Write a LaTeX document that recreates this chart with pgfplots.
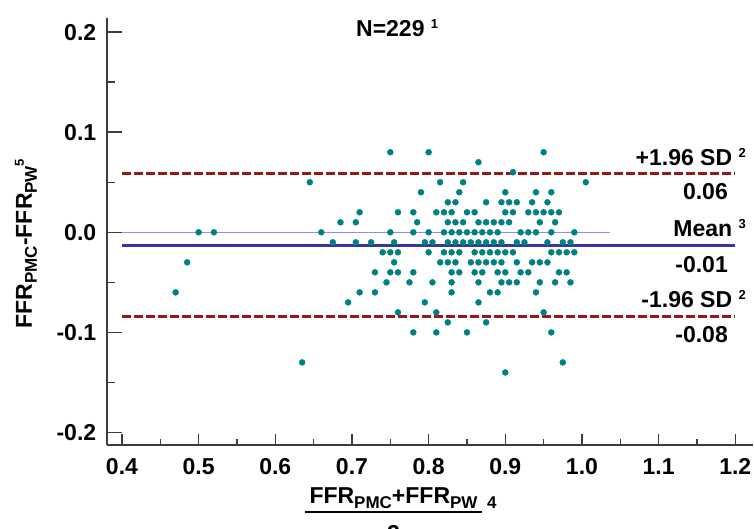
\documentclass[border=0pt]{standalone}
\usepackage{pgfplots}
\pgfplotsset{compat=1.18}
\usepackage{fontspec}
\setmainfont{Liberation Sans}

\definecolor{dotteal}{RGB}{0,128,128}
\definecolor{sdred}{RGB}{150,25,25}
\definecolor{meanblue}{RGB}{55,55,160}
\definecolor{zeroblue}{RGB}{140,140,255}
\definecolor{axgray}{RGB}{60,60,60}

\newcommand{\lbl}{\fontsize{23}{27}\selectfont\bfseries}
\newcommand{\sub}[1]{\raisebox{-5pt}{\fontsize{17}{17}\selectfont #1}}
\newcommand{\supr}[1]{\raisebox{8pt}{\fontsize{13}{13}\selectfont #1}}

\begin{document}
\begin{tikzpicture}
\useasboundingbox (-107.4pt,-84pt) rectangle (646.6pt,445pt);
\begin{axis}[
    width=645.6pt, height=426.7pt, scale only axis,
    xmin=0.381, xmax=1.2231, ymin=-0.2125, ymax=0.2138,
    clip=false,
    axis lines*=left,
    axis line style={-, line width=2pt, axgray},
    tick align=inside,
    xtick={0.4,0.5,0.6,0.7,0.8,0.9,1.0,1.1,1.2},
    xticklabels={0.4,0.5,0.6,0.7,0.8,0.9,1.0,1.1,1.2},
    minor xtick={0.45,0.55,0.65,0.75,0.85,0.95,1.05,1.15},
    ytick={-0.2,-0.1,0,0.1,0.2},
    yticklabels={-0.2,-0.1,0.0,0.1,0.2},
    minor ytick={-0.15,-0.05,0.05,0.15},
    xtick style={/pgfplots/major tick length=11pt, /pgfplots/minor tick length=5.5pt, line width=1.5pt, axgray},
    ytick style={/pgfplots/major tick length=14.6pt, /pgfplots/minor tick length=7.7pt, line width=1.5pt, axgray},
    xticklabel style={font=\lbl, anchor=north, inner sep=0pt, yshift=-13pt},
    yticklabel style={font=\lbl, anchor=east, inner sep=0pt, xshift=-11pt},
]
% thin zero line
\addplot[zeroblue, line width=1pt] coordinates {(0.4,0) (1.036,0)};

% differences against means
\addplot[only marks, mark=*, mark size=3pt, draw=dotteal, fill=dotteal] table {
x y
0.47 -0.06
0.485 -0.03
0.50 0
0.52 0
0.635 -0.13
0.645 0.05
0.66 0
0.75 0.08
0.80 0.08
0.95 0.08
0.865 0.07
0.91 0.06
0.815 0.05
0.845 0.05
1.005 0.05
0.79 0.04
0.84 0.04
0.90 0.04
0.94 0.04
0.96 0.04
0.825 0.03
0.835 0.03
0.875 0.03
0.895 0.03
0.905 0.03
0.915 0.03
0.935 0.03
0.955 0.03
0.71 0.02
0.76 0.02
0.78 0.02
0.81 0.02
0.82 0.02
0.83 0.02
0.85 0.02
0.86 0.02
0.90 0.02
0.91 0.02
0.93 0.02
0.94 0.02
0.95 0.02
0.96 0.02
0.97 0.02
0.685 0.01
0.705 0.01
0.785 0.01
0.825 0.01
0.835 0.01
0.845 0.01
0.865 0.01
0.875 0.01
0.885 0.01
0.895 0.01
0.905 0.01
0.945 0.01
0.965 0.01
0.75 0
0.78 0
0.80 0
0.82 0
0.83 0
0.84 0
0.85 0
0.86 0
0.87 0
0.88 0
0.89 0
0.92 0
0.93 0
0.94 0
0.96 0
0.99 0
0.675 -0.01
0.705 -0.01
0.725 -0.01
0.755 -0.01
0.795 -0.01
0.805 -0.01
0.825 -0.01
0.835 -0.01
0.845 -0.01
0.855 -0.01
0.865 -0.01
0.875 -0.01
0.885 -0.01
0.895 -0.01
0.915 -0.01
0.925 -0.01
0.955 -0.01
0.975 -0.01
0.985 -0.01
0.74 -0.02
0.75 -0.02
0.76 -0.02
0.80 -0.02
0.82 -0.02
0.83 -0.02
0.84 -0.02
0.86 -0.02
0.87 -0.02
0.88 -0.02
0.89 -0.02
0.90 -0.02
0.91 -0.02
0.96 -0.02
0.97 -0.02
0.98 -0.02
0.99 -0.02
0.755 -0.03
0.815 -0.03
0.825 -0.03
0.835 -0.03
0.855 -0.03
0.865 -0.03
0.875 -0.03
0.885 -0.03
0.895 -0.03
0.915 -0.03
0.935 -0.03
0.945 -0.03
0.955 -0.03
0.73 -0.04
0.75 -0.04
0.76 -0.04
0.78 -0.04
0.83 -0.04
0.84 -0.04
0.86 -0.04
0.87 -0.04
0.89 -0.04
0.90 -0.04
0.92 -0.04
0.93 -0.04
0.97 -0.04
0.98 -0.04
0.745 -0.05
0.775 -0.05
0.805 -0.05
0.83 -0.05
0.865 -0.05
0.895 -0.05
0.905 -0.05
0.915 -0.05
0.945 -0.05
0.965 -0.05
0.985 -0.05
0.71 -0.06
0.73 -0.06
0.83 -0.06
0.88 -0.06
0.89 -0.06
0.94 -0.06
0.695 -0.07
0.795 -0.07
0.865 -0.07
0.76 -0.08
0.81 -0.08
0.95 -0.08
0.825 -0.09
0.875 -0.09
0.78 -0.10
0.81 -0.10
0.85 -0.10
0.96 -0.10
0.975 -0.13
0.90 -0.14
};

% mean and limits of agreement
\addplot[meanblue, line width=3pt] coordinates {(0.4,-0.0127) (1.2,-0.0127)};
\addplot[sdred, line width=2.6pt, dash pattern=on 8.7pt off 3.3pt] coordinates {(0.4,0.0587) (1.2,0.0587)};
\addplot[sdred, line width=2.6pt, dash pattern=on 8.7pt off 3.3pt] coordinates {(0.4,-0.0841) (1.2,-0.0841)};

\begin{scope}[every node/.style={font=\lbl, inner sep=0pt}]
\node[anchor=base east] at (axis cs:1.214,0.0672) {+1.96 SD \supr{2}};
\node[anchor=base east] at (axis cs:1.1905,0.0323) {0.06};
\node[anchor=base east] at (axis cs:1.214,-0.0037) {Mean \supr{3}};
\node[anchor=base east] at (axis cs:1.1905,-0.0397) {-0.01};
\node[anchor=base east] at (axis cs:1.214,-0.0756) {-1.96 SD \supr{2}};
\node[anchor=base east] at (axis cs:1.1905,-0.1105) {-0.08};

\node[anchor=base west] at (axis cs:0.7052,0.1961) {N=229 \supr{1}};

\node[rotate=90, anchor=base] at (axis cs:0.2826,-0.0112) {FFR\sub{PMC}-FFR\sub{PW}\supr{5}};

\node[anchor=base] at (axis cs:0.7542,-0.2707) {FFR\sub{PMC}+FFR\sub{PW}};
\draw[line width=2pt] (axis cs:0.6387,-0.2797) -- (axis cs:0.8696,-0.2797);
\node[anchor=north] at (axis cs:0.7542,-0.2924) {2};
\node[anchor=base west] at (axis cs:0.8761,-0.2764) {\fontsize{17}{17}\selectfont 4};
\end{scope}
\end{axis}
\end{tikzpicture}
\end{document}
